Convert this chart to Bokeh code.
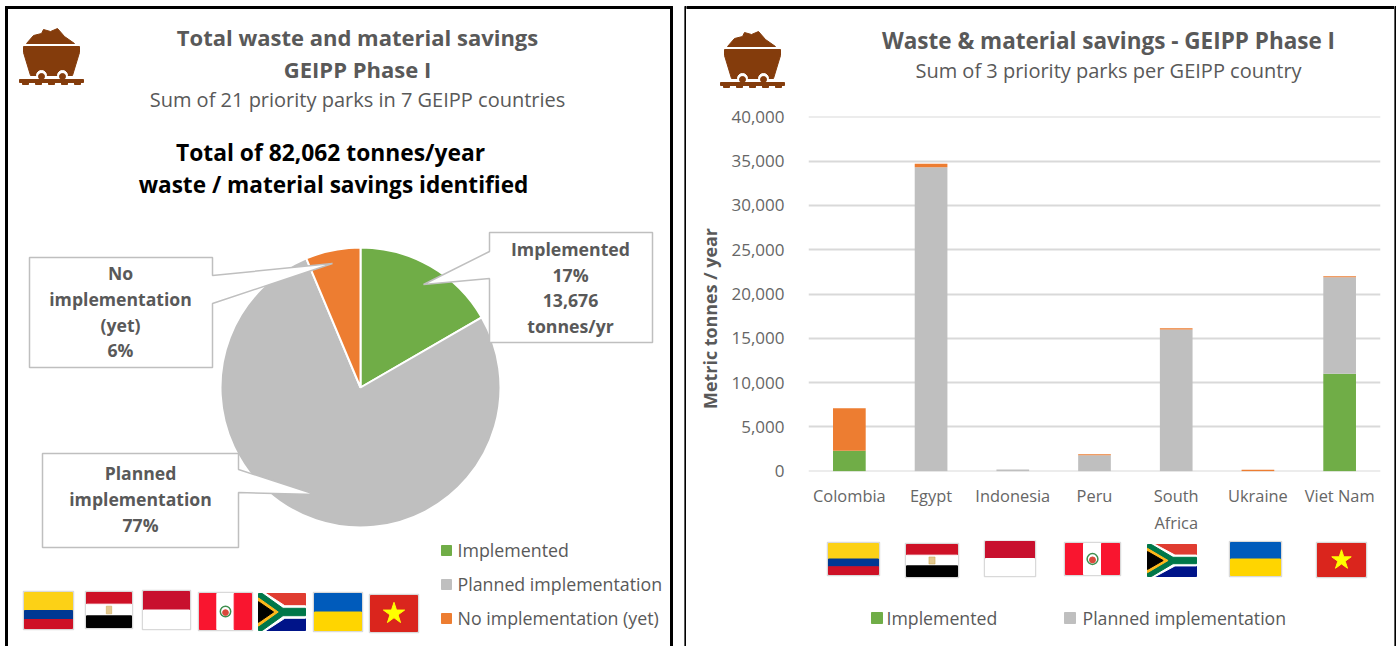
import math

from bokeh.core.properties import value
from bokeh.embed import file_html
from bokeh.layouts import column, row
from bokeh.models import ColumnDataSource, FactorRange, NumeralTickFormatter, Range1d
from bokeh.plotting import figure
from bokeh.resources import INLINE

# Savings by implementation status (tonnes per year)
pie_status = ["Implemented", "Planned implementation", "No implementation (yet)"]
pie_tonnes = [13676, 63188, 5198]

countries = ["Colombia", "Egypt", "Indonesia", "Peru", "South\nAfrica", "Ukraine", "Viet Nam"]
implemented = [2300, 0, 0, 0, 0, 0, 11000]
planned = [0, 34300, 200, 1800, 16000, 0, 10900]
no_implementation = [4800, 400, 0, 120, 130, 170, 100]

GREEN = "#70AD47"
GREY = "#BFBFBF"
ORANGE = "#ED7D31"
TEXT = "#595959"
FONT = "Open Sans"
BROWN = "#843C0C"


def canvas(width, height, x0, x1, y_top, y_bottom):
    p = figure(width=width, height=height, output_backend="svg", toolbar_location=None,
               x_range=Range1d(x0, x1), y_range=Range1d(y_bottom, y_top),
               min_border=0, outline_line_color=None, frame_align=False)
    p.axis.visible = False
    p.grid.visible = False
    return p


def label(p, x, y, text, size=16, color=TEXT, bold=False, align="center"):
    p.text(x=[x], y=[y - 2], text=[text], text_font=value(FONT), text_font_size=f"{size}px",
           text_font_style="bold" if bold else "normal", text_color=color,
           text_align=align, text_baseline="middle")


def mine_cart(p, ox, oy):
    """Mine-cart pictogram with its top-left corner at (ox, oy)."""
    pts = lambda seq: ([ox + a for a, _ in seq], [oy + b for _, b in seq])
    xs, ys = pts([(7, 15), (14, 7), (22, 5), (24, 1), (31, 3), (38, 0), (45, 8), (55, 15)])
    p.patch(xs, ys, color=BROWN)
    xs, ys = pts([(4, 18), (60, 18), (60, 24), (53, 47), (11, 47), (4, 24)])
    p.patch(xs, ys, color=BROWN)
    p.circle(x=[ox + 22, ox + 43], y=[oy + 47, oy + 47], radius=5, color="#FFFFFF")
    p.circle(x=[ox + 22, ox + 43], y=[oy + 48, oy + 48], radius=3, color=BROWN)
    p.quad(left=[ox, ox + 3, ox + 16, ox + 29, ox + 42, ox + 55],
           right=[ox + 64, ox + 9, ox + 22, ox + 35, ox + 48, ox + 61],
           top=[oy + 51, oy + 51, oy + 51, oy + 51, oy + 51, oy + 51],
           bottom=[oy + 54, oy + 56, oy + 56, oy + 56, oy + 56, oy + 56], color=BROWN)


def stripes(p, x0, y0, w, h, bands):
    y = y0
    for share, color in bands:
        p.quad(left=[x0], right=[x0 + w], top=[y], bottom=[y + h * share], color=color)
        y += h * share


def columns3(p, x0, y0, w, h, colors):
    for i, color in enumerate(colors):
        p.quad(left=[x0 + w * i / 3], right=[x0 + w * (i + 1) / 3], top=[y0], bottom=[y0 + h], color=color)


def frame_back(p, x0, y0, w, h):
    p.quad(left=[x0 - 1], right=[x0 + w + 1], top=[y0 - 1], bottom=[y0 + h + 1],
           fill_color="#FFFFFF", line_color="#D9D9D9", line_width=1.5)


def flag(p, name, x0, y0, w, h):
    if name != "South\nAfrica":
        frame_back(p, x0, y0, w, h)
    if name == "Colombia":
        stripes(p, x0, y0, w, h, [(0.5, "#FCD116"), (0.25, "#003893"), (0.25, "#CE1126")])
    elif name == "Egypt":
        stripes(p, x0, y0, w, h, [(1 / 3, "#CE1126"), (1 / 3, "#FFFFFF"), (1 / 3, "#000000")])
        p.quad(left=[x0 + w * .44], right=[x0 + w * .56], top=[y0 + h * .39], bottom=[y0 + h * .61],
               fill_color="#E3C98F", line_color="#C8A04A", line_width=0.5)
    elif name == "Indonesia":
        stripes(p, x0, y0, w, h, [(0.5, "#C8102E"), (0.5, "#FFFFFF")])
    elif name == "Peru":
        columns3(p, x0, y0, w, h, ["#F9152F", "#FFFFFF", "#F9152F"])
        p.circle(x=[x0 + w / 2], y=[y0 + h / 2], radius=w * .10, fill_color="#FFFFFF",
                 line_color="#3F8F4F", line_width=1.5)
        p.circle(x=[x0 + w / 2], y=[y0 + h * .53], radius=w * .055, color="#D9483B")
    elif name == "South\nAfrica":
        stripes(p, x0, y0, w, h, [(0.5, "#E03C31"), (0.5, "#001489")])
        rel = lambda seq: ([x0 + w * a for a, _ in seq], [y0 + h * b for _, b in seq])
        xs, ys = rel([(0, 0), (.16, 0), (.56, .33), (1, .33), (1, .67), (.56, .67), (.16, 1), (0, 1)])
        p.patch(xs, ys, color="#FFFFFF")
        xs, ys = rel([(0, 0), (.08, 0), (.52, .40), (1, .40), (1, .60), (.52, .60), (.08, 1), (0, 1)])
        p.patch(xs, ys, color="#007749")
        xs, ys = rel([(0, .12), (.42, .5), (0, .88)])
        p.patch(xs, ys, color="#FFB81C")
        xs, ys = rel([(0, .22), (.32, .5), (0, .78)])
        p.patch(xs, ys, color="#000000")
    elif name == "Ukraine":
        stripes(p, x0, y0, w, h, [(0.5, "#005BBB"), (0.5, "#FFD500")])
    elif name == "Viet Nam":
        stripes(p, x0, y0, w, h, [(1, "#DA251D")])
        p.scatter(x=[x0 + w / 2], y=[y0 + h / 2], marker="star", size=h * .62, color="#FFFF00")


def callout(p, points):
    xs, ys = zip(*points)
    p.patch(list(xs), list(ys), fill_color="#FFFFFF", line_color=GREY, line_width=1.5)


def edge_strip():
    """Two-pixel black strip forming a vertical side of the right panel."""
    p = canvas(2, 646, 0, 2, 0, 646)
    p.quad(left=[0], right=[2], top=[6], bottom=[646], color="#000000")
    return p


# ---------- left panel: pie of all parks ----------
left = canvas(684, 646, 0, 684, 0, 646)
left.quad(left=[5, 670, 5], right=[7, 672, 672], top=[650, 650, 6], bottom=[6, 6, 8], color="#000000")
mine_cart(left, 19, 28)
label(left, 357, 38, "Total waste and material savings", 22, TEXT, True)
label(left, 357, 70, "GEIPP Phase I", 22, TEXT, True)
label(left, 357, 101, "Sum of 21 priority parks in 7 GEIPP countries", 20)
label(left, 330, 154, "Total of 82,062 tonnes/year", 22.8, "#000000", True)
label(left, 333, 186, "waste / material savings identified", 22.6, "#000000", True)

total = sum(pie_tonnes)
start = math.pi / 2
for tonnes, color in zip(pie_tonnes, [GREEN, GREY, ORANGE]):
    end = start - 2 * math.pi * tonnes / total
    left.wedge(x=[360], y=[387], radius=140, start_angle=[start], end_angle=[end],
               direction="clock", fill_color=color, line_color="#FFFFFF", line_width=2)
    start = end

callout(left, [(489, 232), (652, 232), (652, 342), (489, 342), (489, 278), (423, 284), (489, 251)])
callout(left, [(29, 257), (212, 257), (212, 275), (332, 263), (212, 303), (212, 367), (29, 367)])
callout(left, [(42, 453), (238, 453), (238, 469), (315, 494), (238, 492), (238, 547), (42, 547)])

for y, text in zip([250, 276, 302, 327], ["Implemented", "17%", "13,676", "tonnes/yr"]):
    label(left, 570, y, text, 17.7, TEXT, True)
for y, text in zip([274, 300, 326, 351], ["No", "implementation", "(yet)", "6%"]):
    label(left, 120, y, text, 17.6, TEXT, True)
for y, text in zip([474, 500, 526], ["Planned", "implementation", "77%"]):
    label(left, 140, y, text, 17.6, TEXT, True)

for y, name, color in zip([550, 584, 618], pie_status, [GREEN, GREY, ORANGE]):
    left.quad(left=[441], right=[451], top=[y - 5], bottom=[y + 5], color=color)
    label(left, 457, y + 1, name, 17.8, TEXT, False, "left")

left_flags = [(24, 592, 48, 36), (86, 592, 45, 35), (143, 591, 46, 37), (199, 593, 52, 36),
              (258, 593, 47, 37), (314, 593, 47, 37), (370, 595, 47, 36)]
for name, (x0, y0, w, h) in zip(countries, left_flags):
    flag(left, name, x0, y0, w, h)

# ---------- right panel: stacked bars per country ----------
head = canvas(708, 100, 686, 1394, 0, 100)
head.quad(left=[686], right=[1394], top=[6], bottom=[8], color="#000000")
mine_cart(head, 720, 31)
label(head, 1108, 42, "Waste & material savings - GEIPP Phase I", 22.5, TEXT, True)
label(head, 1108, 72, "Sum of 3 priority parks per GEIPP country", 20)

# The axis title sits in its own strip so it can be centred lower than the plot frame
title_strip = canvas(40, 440, 686, 726, 100, 540)
title_strip.text(x=[709], y=[318], text=["Metric tonnes / year"], angle=[math.pi / 2],
                 text_font=value(FONT), text_font_size="17.9px", text_font_style="bold",
                 text_color=TEXT, text_align="center", text_baseline="middle")

source = ColumnDataSource(dict(country=countries, implemented=implemented,
                               planned=planned, none=no_implementation))
chart = figure(width=668, height=440, output_backend="svg", toolbar_location=None,
               x_range=FactorRange(*countries, range_padding=0, factor_padding=0, group_padding=0),
               y_range=Range1d(-30, 40030), outline_line_color=None, frame_align=False,
               min_border_top=16, min_border_bottom=69, min_border_left=82, min_border_right=14)
chart.vbar_stack(["implemented", "planned", "none"], x="country", width=0.4,
                 color=[GREEN, GREY, ORANGE], source=source, line_color=None)
chart.yaxis.formatter = NumeralTickFormatter(format="0,0")
chart.yaxis.ticker = [0, 5000, 10000, 15000, 20000, 25000, 30000, 35000, 40000]
chart.yaxis.major_label_standoff = 18
chart.xaxis.major_label_standoff = 6
for axis in (chart.xaxis, chart.yaxis):
    axis.axis_line_color = None
    axis.major_tick_line_color = None
    axis.minor_tick_line_color = None
    axis.major_label_text_font = FONT
    axis.major_label_text_color = "#666666"
chart.xaxis.major_label_text_font_size = "16.4px"
chart.yaxis.major_label_text_font_size = "17px"
chart.xgrid.visible = False
chart.ygrid.grid_line_color = "#D9D9D9"
chart.ygrid.grid_line_width = 2

foot = canvas(708, 106, 686, 1394, 540, 646)
right_flags = [(828, 543, 50, 31), (906, 544, 51, 32), (985, 541, 49, 34), (1065, 543, 54, 31),
               (1147, 544, 49, 32), (1230, 542, 50, 33), (1317, 543, 48, 33)]
for name, (x0, y0, w, h) in zip(countries, right_flags):
    flag(foot, name, x0, y0, w, h)
foot.quad(left=[871], right=[882], top=[612], bottom=[623], color=GREEN)
label(foot, 886, 619, "Implemented", 17.7, TEXT, False, "left")
foot.quad(left=[1064], right=[1075], top=[612], bottom=[623], color=GREY)
label(foot, 1082, 619, "Planned implementation", 17.7, TEXT, False, "left")

middle = column(head, row(title_strip, chart, spacing=0), foot, spacing=0)
page = row(left, edge_strip(), middle, edge_strip(), spacing=0)
open("out.html", "w").write(file_html(page, INLINE))
